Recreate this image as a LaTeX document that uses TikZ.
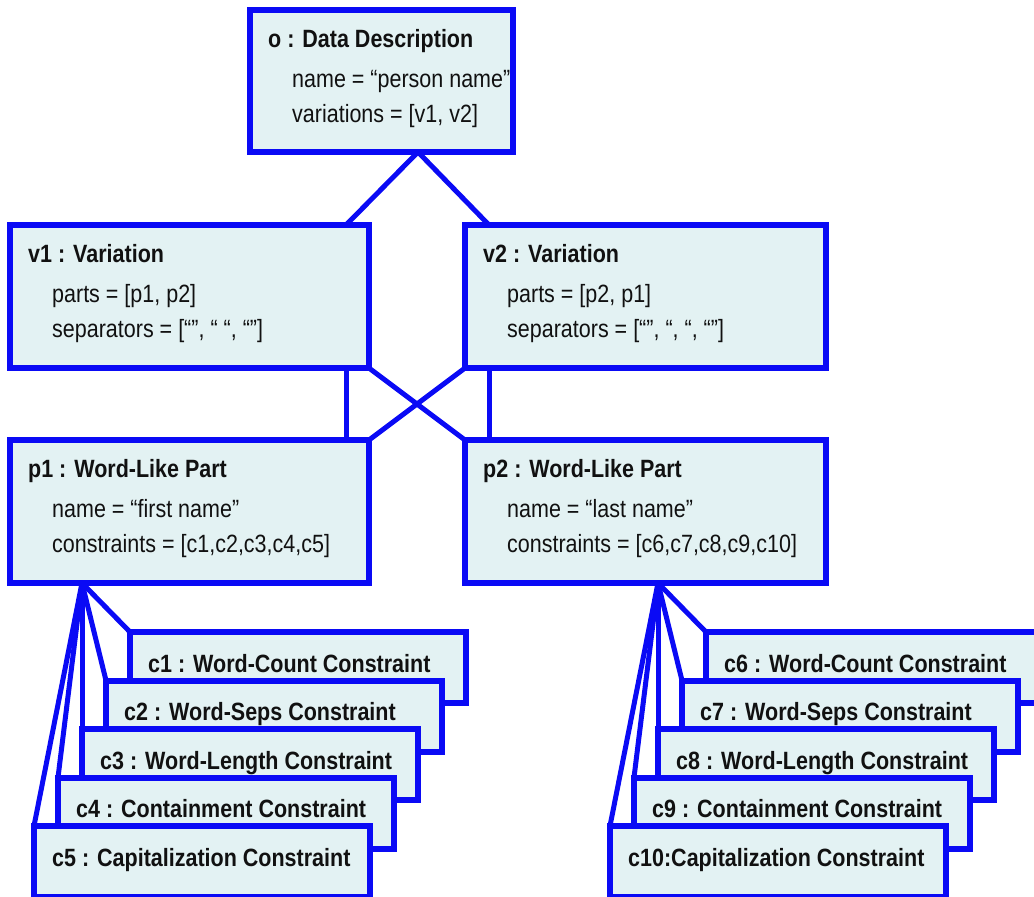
\documentclass[tikz,border=0pt]{standalone}
\usepackage{fontspec}
\setmainfont{Liberation Sans}[FakeStretch=0.86]
\usetikzlibrary{calc}
\definecolor{umlblue}{RGB}{10,10,245}
\definecolor{umlfill}{RGB}{227,242,243}
\definecolor{umltext}{RGB}{17,17,17}
\tikzset{
  objbox/.style={draw=umlblue, fill=umlfill, line width=6pt, outer sep=0pt,
    inner sep=0pt, anchor=north west, rectangle},
  link/.style={draw=umlblue, line width=5pt},
  ttl/.style={anchor=base west, inner sep=0pt, text=umltext,
    font=\fontsize{25}{30}\selectfont\bfseries},
  attr/.style={anchor=base west, inner sep=0pt, text=umltext,
    font=\fontsize{25}{30}\selectfont},
  cbox/.style={objbox, minimum width=336pt, minimum height=71pt},
}
\begin{document}
\begin{tikzpicture}[x=1pt,y=-1pt]
\useasboundingbox (0,0) rectangle (1034,897);

% ---- object boxes ----
\node[objbox, minimum width=263pt, minimum height=142pt] (o) at (250,10) {};
\node[objbox, minimum width=359pt, minimum height=143pt] (v1) at (10,225) {};
\node[objbox, minimum width=361pt, minimum height=143pt] (v2) at (465,225) {};
\node[objbox, minimum width=359pt, minimum height=143pt] (p1) at (10,440) {};
\node[objbox, minimum width=361pt, minimum height=143pt] (p2) at (465,440) {};

% connection points
\coordinate (oa) at (418,152);
\coordinate (v1t) at (346,225);
\coordinate (v2t) at (489,225);
\coordinate (pa1) at (82,583);
\coordinate (pa2) at (658,583);

% ---- links between objects ----
\draw[link] (oa) -- (v1t);
\draw[link] (oa) -- (v2t);
\draw[link] (v1t |- v1.south) -- (v1t |- p1.north);
\draw[link] (v2t |- v2.south) -- (v2t |- p2.north);
\draw[link] (v1.south east) -- (p2.north west);
\draw[link] (v2.south west) -- (p1.north east);

% ---- texts of the object boxes ----
\node[ttl] (o-t) at ($(o.north west)+(18,37.5)$) {o : Data Description};
\node[attr] (o-a) at ($(o.north west)+(42,77)$) {name = “person name”};
\node[attr] (o-b) at ($(o.north west)+(42,112)$) {variations = [v1, v2]};

\node[ttl] (v1-t) at ($(v1.north west)+(18,37.5)$) {v1 : Variation};
\node[attr] (v1-a) at ($(v1.north west)+(42,77)$) {parts = [p1, p2]};
\node[attr] (v1-b) at ($(v1.north west)+(42,112)$) {separators = [“”, “ “, “”]};

\node[ttl] (v2-t) at ($(v2.north west)+(18,37.5)$) {v2 : Variation};
\node[attr] (v2-a) at ($(v2.north west)+(42,77)$) {parts = [p2, p1]};
\node[attr] (v2-b) at ($(v2.north west)+(42,112)$) {separators = [“”, “, “, “”]};

\node[ttl] (p1-t) at ($(p1.north west)+(18,37.5)$) {p1 : Word-Like Part};
\node[attr] (p1-a) at ($(p1.north west)+(42,77)$) {name = “first name”};
\node[attr] (p1-b) at ($(p1.north west)+(42,112)$) {constraints = [c1,c2,c3,c4,c5]};

\node[ttl] (p2-t) at ($(p2.north west)+(18,37.5)$) {p2 : Word-Like Part};
\node[attr] (p2-a) at ($(p2.north west)+(42,77)$) {name = “last name”};
\node[attr] (p2-b) at ($(p2.north west)+(42,112)$) {constraints = [c6,c7,c8,c9,c10]};

% ---- constraint stacks (back to front) ----
\foreach \n/\x/\y in {c1/130/632, c2/106/680.5, c3/82/729, c4/58/777.5, c5/34/826,
                      c6/706/632, c7/682/680.5, c8/658/729, c9/634/777.5, c10/610/826}
  \coordinate (\n-pos) at (\x,\y);

% links from the parts to their constraints
\foreach \n in {c1,c2,c3,c4,c5} \draw[link] (pa1) -- (\n-pos);
\foreach \n in {c6,c7,c8,c9,c10} \draw[link] (pa2) -- (\n-pos);

\foreach \n/\lbl in {c1/{c1 : Word-Count Constraint},
                     c2/{c2 : Word-Seps Constraint},
                     c3/{c3 : Word-Length Constraint},
                     c4/{c4 : Containment Constraint},
                     c5/{c5 : Capitalization Constraint},
                     c6/{c6 : Word-Count Constraint},
                     c7/{c7 : Word-Seps Constraint},
                     c8/{c8 : Word-Length Constraint},
                     c9/{c9 : Containment Constraint},
                     c10/{c10:Capitalization Constraint}} {
  \node[cbox] (\n) at (\n-pos) {};
  \node[ttl] (\n-t) at ($(\n.north west)+(18,40)$) {\lbl};
}
\end{tikzpicture}
\end{document}
